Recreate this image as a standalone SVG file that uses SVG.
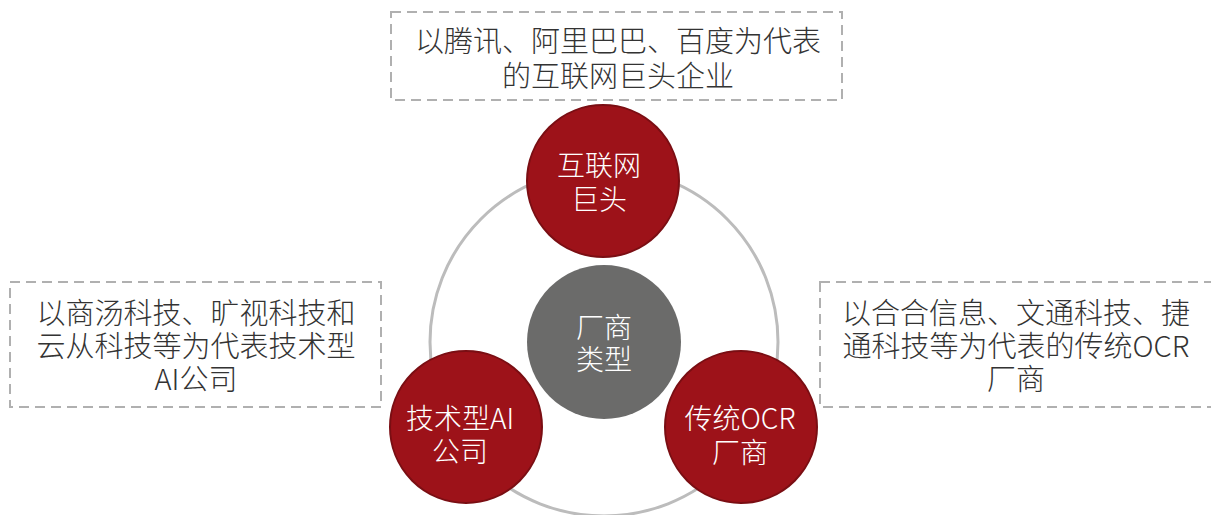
<svg xmlns="http://www.w3.org/2000/svg" width="1211" height="515" viewBox="0 0 1211 515">
<style>
.box{fill:#fff;stroke:#b0b0b0;stroke-width:2;stroke-dasharray:10 6}
.bt{font-family:"Noto Sans CJK SC","Liberation Sans",sans-serif;font-weight:300;font-size:29px;fill:#333;text-anchor:middle;dominant-baseline:central}
.ct{font-family:"Noto Sans CJK SC","Liberation Sans",sans-serif;font-weight:300;font-size:28px;fill:#fff;text-anchor:middle;dominant-baseline:central}
.red{fill:#9d1219;stroke:#7a0e13;stroke-width:2}
.gray{fill:#6b6b6a}
.ring{fill:none;stroke:#bcbcbc;stroke-width:3}
</style>
<rect width="1211" height="515" fill="#fff"/>
<g id="connectors">
<circle class="ring" cx="604" cy="342" r="174"/>
</g>
<g id="box-top">
<rect class="box" x="391" y="12" width="451" height="88"/>
<text class="bt" x="618" y="39">以腾讯、阿里巴巴、百度为代表</text>
<text class="bt" x="618" y="74">的互联网巨头企业</text>
</g>
<g id="box-left">
<rect class="box" x="10" y="282" width="371" height="125"/>
<text class="bt" x="196" y="311">以商汤科技、旷视科技和</text>
<text class="bt" x="196" y="344">云从科技等为代表技术型</text>
<text class="bt" x="196" y="377">AI公司</text>
</g>
<g id="box-right">
<rect class="box" x="820" y="282" width="400" height="125"/>
<text class="bt" x="1016" y="311">以合合信息、文通科技、捷</text>
<text class="bt" x="1016" y="344">通科技等为代表的传统OCR</text>
<text class="bt" x="1016" y="377">厂商</text>
</g>
<g id="node-top">
<circle class="red" cx="603" cy="181" r="76"/>
<text class="ct" x="599" y="164">互联网</text>
<text class="ct" x="599" y="198">巨头</text>
</g>
<g id="node-center">
<circle class="gray" cx="604" cy="342" r="77"/>
<text class="ct" x="604" y="326">厂商</text>
<text class="ct" x="604" y="358">类型</text>
</g>
<g id="node-left">
<circle class="red" cx="466" cy="427" r="76"/>
<text class="ct" x="460" y="417">技术型AI</text>
<text class="ct" x="460" y="450">公司</text>
</g>
<g id="node-right">
<circle class="red" cx="741" cy="427" r="76"/>
<text class="ct" x="740" y="417">传统OCR</text>
<text class="ct" x="740" y="451">厂商</text>
</g>
</svg>
